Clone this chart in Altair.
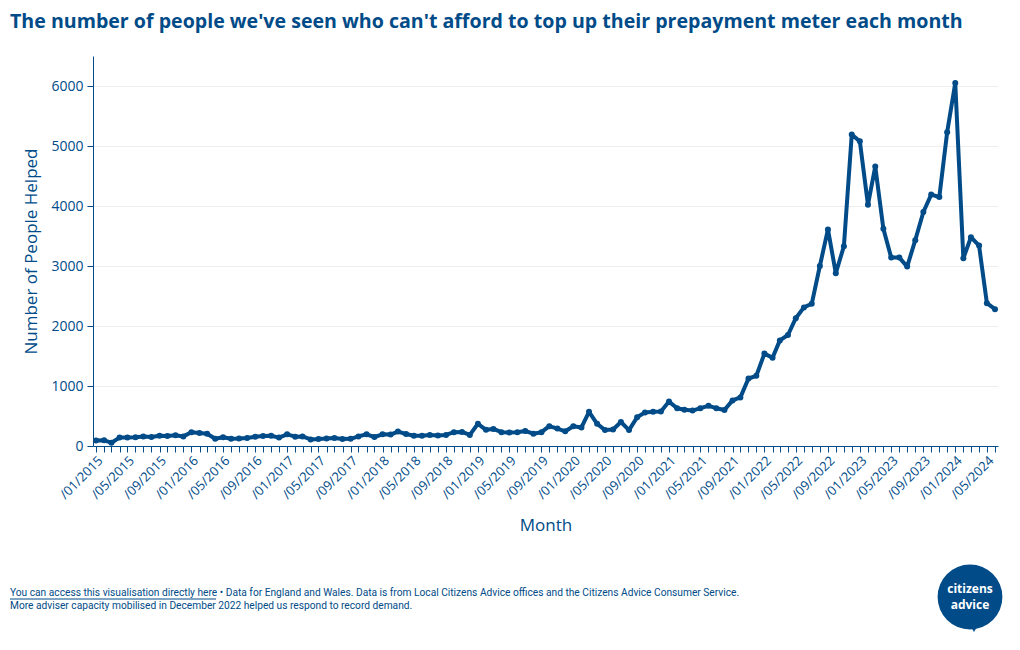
import altair as alt
import pandas as pd

BLUE = "#004b88"

# Monthly number of people helped, Jan 2015 .. Jun 2024
people = [
    90, 95, 55, 140, 140, 145, 160, 150, 170, 165, 180, 160,      # 2015
    230, 215, 205, 120, 145, 120, 125, 135, 155, 165, 170, 140,   # 2016
    195, 155, 160, 110, 115, 125, 135, 115, 120, 160, 195, 150,   # 2017
    195, 190, 240, 200, 170, 170, 185, 175, 185, 230, 235, 185,   # 2018
    370, 270, 285, 230, 225, 230, 250, 205, 230, 330, 290, 245,   # 2019
    330, 310, 570, 370, 265, 275, 400, 265, 480, 560, 570, 575,   # 2020
    740, 630, 605, 590, 630, 670, 630, 600, 760, 810, 1125, 1170, # 2021
    1540, 1470, 1760, 1850, 2130, 2310, 2370, 3000, 3610, 2880, 3330, 5190,  # 2022
    5080, 4020, 4660, 3620, 3140, 3140, 2990, 3430, 3900, 4190, 4150, 5230,  # 2023
    6050, 3130, 3480, 3340, 2380, 2280,                            # 2024
]
first_month = "2015-01-01"
y_ticks = [0, 1000, 2000, 3000, 4000, 5000, 6000]

title_text = "The number of people we've seen who can't afford to top up their prepayment meter each month"
footer_link = "You can access this visualisation directly here"
footer_line1 = footer_link + " \u2022 Data for England and Wales. Data is from Local Citizens Advice offices and the Citizens Advice Consumer Service."
footer_line2 = "More adviser capacity mobilised in December 2022 helped us respond to record demand."

months = pd.date_range(first_month, periods=len(people), freq="MS")
df = pd.DataFrame({"month": months.strftime("%Y-%m-%d"), "people": people})

tick_ms = [int(m.value // 10**6) for m in months]
x_domain = [int(pd.Timestamp("2014-12-20T12:00:00").value // 10**6),
            int(pd.Timestamp("2024-06-12T12:00:00").value // 10**6)]

W, H = 905, 390

line = alt.Chart(df).mark_line(
    color=BLUE, strokeWidth=4, strokeJoin="round",
    point=alt.OverlayMarkDef(filled=True, size=36, color=BLUE),
).encode(
    x=alt.X(
        "month:T",
        scale=alt.Scale(type="utc", domain=x_domain),
        axis=alt.Axis(
            values=tick_ms,
            labelExpr="utcmonth(datum.value) % 4 == 0 ? utcFormat(datum.value, '/%m/%Y') : ''",
            labelAngle=-45, labelAlign="right", labelBaseline="top",
            labelOverlap=False, labelFlush=False,
            labelFontSize=13, labelColor=BLUE, labelFont="Open Sans", labelPadding=2,
            title="Month", titleFontSize=17, titleColor=BLUE, titleFont="Open Sans",
            titleFontWeight="normal", titlePadding=16,
            grid=False, domainColor=BLUE, domainWidth=1,
            tickColor=BLUE, tickSize=6, tickWidth=1,
        ),
    ),
    y=alt.Y(
        "people:Q",
        scale=alt.Scale(domain=[0, 6500], nice=False, zero=True),
        axis=alt.Axis(
            values=y_ticks, format="d",
            labelFontSize=14, labelColor=BLUE, labelFont="Open Sans", labelPadding=4,
            title="Number of People Helped", titleFontSize=17, titleColor=BLUE,
            titleFont="Open Sans", titleFontWeight="normal", titlePadding=10,
            grid=True, gridColor="#eeeeee", gridWidth=1,
            domainColor=BLUE, domainWidth=1,
            tickColor=BLUE, tickSize=6, tickWidth=1,
        ),
    ),
)

one = pd.DataFrame({"k": [0]})

title = alt.Chart(one).mark_text(
    text=title_text, align="left", baseline="middle", font="Open Sans",
    fontSize=19.6, fontWeight="bold", color=BLUE,
).encode(x=alt.value(-83), y=alt.value(-34))

foot1 = alt.Chart(one).mark_text(
    text=footer_line1, align="left", baseline="middle",
    font="Roboto, Open Sans", fontSize=10.2, color=BLUE,
).encode(x=alt.value(-83), y=alt.value(537))

foot2 = alt.Chart(one).mark_text(
    text=footer_line2, align="left", baseline="middle",
    font="Roboto, Open Sans", fontSize=10.2, color=BLUE,
).encode(x=alt.value(-83), y=alt.value(550))

underline = alt.Chart(one).mark_rule(color=BLUE, strokeWidth=1).encode(
    x=alt.value(-83), x2=alt.value(123), y=alt.value(543)
)

logo_circle = alt.Chart(one).mark_point(
    shape="circle", filled=True, size=4200, color=BLUE, opacity=1
).encode(x=alt.value(877), y=alt.value(541))

logo_tail = alt.Chart(one).mark_point(
    shape="triangle-down", filled=True, size=90, color=BLUE, opacity=1
).encode(x=alt.value(881), y=alt.value(572))

logo_t1 = alt.Chart(one).mark_text(
    text="citizens", align="center", baseline="middle", font="Open Sans",
    fontSize=12, fontWeight="bold", color="white",
).encode(x=alt.value(877), y=alt.value(533))

logo_t2 = alt.Chart(one).mark_text(
    text="advice", align="center", baseline="middle", font="Open Sans",
    fontSize=12, fontWeight="bold", color="white",
).encode(x=alt.value(877), y=alt.value(549))

chart = alt.layer(
    line, title, foot1, foot2, underline, logo_circle, logo_tail, logo_t1, logo_t2
).properties(
    width=W, height=H,
    autosize=alt.AutoSizeParams(type="none"),
    padding={"left": 85, "top": 48, "right": 14, "bottom": 190},
    background="white",
).configure_view(stroke="transparent")

chart.save("out.html", embed_options={"renderer": "svg", "actions": False})
